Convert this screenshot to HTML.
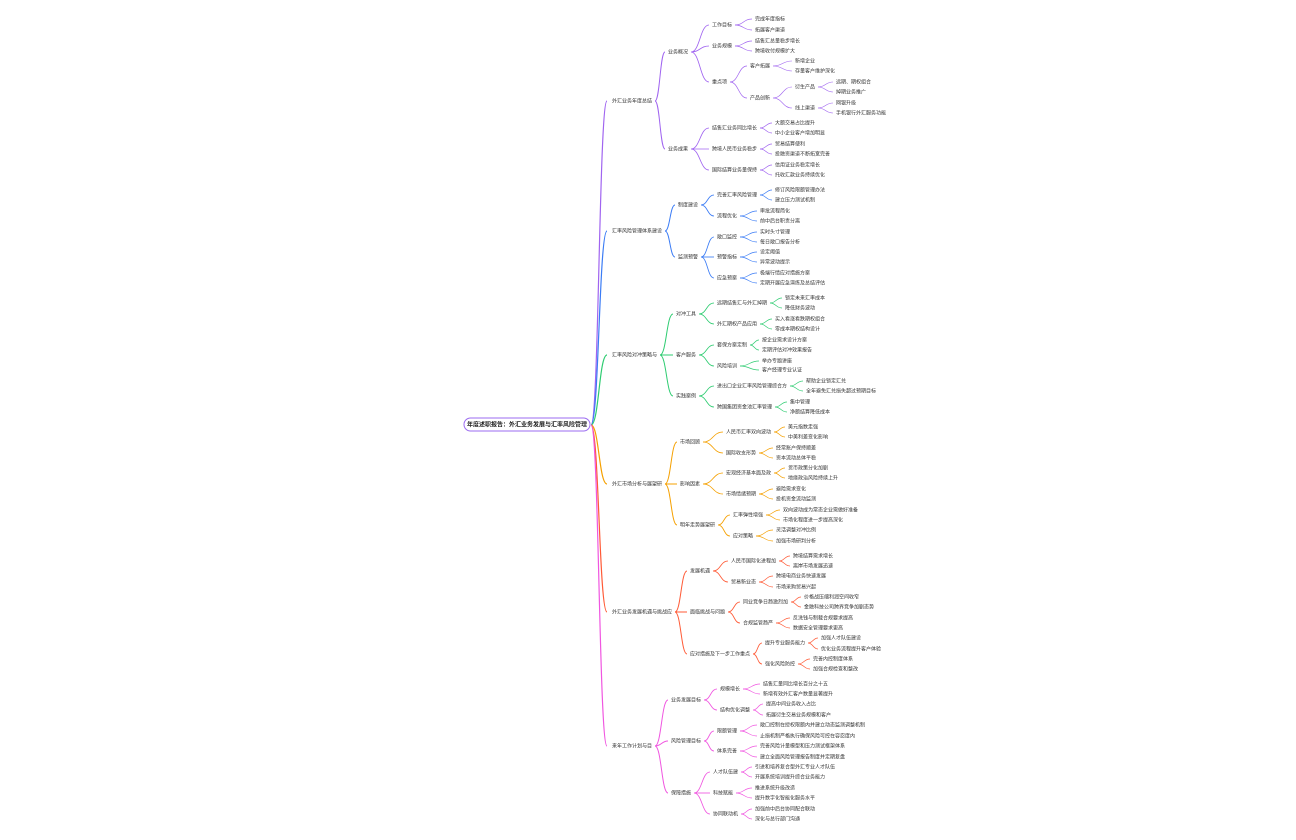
<!DOCTYPE html>
<html><head><meta charset="utf-8"><style>
html,body{margin:0;padding:0;background:#fff;width:1296px;height:840px;overflow:hidden}
svg{display:block}
text{font-family:"Liberation Sans","Noto Sans CJK SC",sans-serif;font-size:5px;fill:#333;dominant-baseline:middle}
</style></head><body>
<svg id="s" width="1296" height="840" viewBox="0 0 1296 840" xmlns="http://www.w3.org/2000/svg">
<rect x="464" y="418" width="126" height="13" rx="6.5" fill="#fff" stroke="#9b6bf0" stroke-width="1"/>
<text x="527" y="425" text-anchor="middle" style="font-size:6px;font-weight:bold;fill:#222">年度述职报告：外汇业务发展与汇率风险管理</text>
<g id="g"></g>
</svg>
<script>
var T=[
["#a064f0",612,101,"外汇业务年度总结",[
 [668,52,"业务概况",[
  [712,25,"工作目标",[[755,19,"完成年度指标"],[755,30,"拓展客户渠道"]]],
  [712,46,"业务规模",[[755,41,"结售汇总量稳步增长"],[755,51,"跨境收付规模扩大"]]],
  [712,82,"重点项",[
   [750,66,"客户拓展",[[795,61,"新增企业"],[795,71,"存量客户维护深化"]]],
   [750,98,"产品创新",[
     [795,87,"衍生产品",[[836,82,"远期、期权组合"],[836,92,"掉期业务推广"]]],
     [795,108,"线上渠道",[[836,103,"网银升级"],[836,113,"手机银行外汇服务功能"]]]]]]]]],
 [668,149,"业务成果",[
  [712,128,"结售汇业务同比增长",[[775,123,"大额交易占比提升"],[775,133,"中小企业客户增加明显"]]],
  [712,149,"跨境人民币业务稳步推进",[[775,144,"贸易结算便利"],[775,154,"投融资渠道不断拓宽完善"]]],
  [712,170,"国际结算业务量保持领先",[[775,165,"信用证业务稳定增长"],[775,175,"托收汇款业务持续优化"]]]]]]],
["#3b7cf5",612,231,"汇率风险管理体系建设",[
 [678,205,"制度建设",[
  [717,195,"完善汇率风险管理制度",[[775,190,"修订风险限额管理办法"],[775,200,"建立压力测试机制"]]],
  [717,216,"流程优化",[[760,211,"审批流程简化"],[760,221,"前中后台职责分离"]]]]],
 [678,257,"监测预警",[
  [717,237,"敞口监控",[[760,232,"实时头寸管理"],[760,242,"每日敞口报告分析"]]],
  [717,257,"预警指标",[[760,252,"设定阈值"],[760,262,"异常波动提示"]]],
  [717,278,"应急预案",[[760,273,"极端行情应对措施方案"],[760,283,"定期开展应急演练及总结评估"]]]]]]],
["#2ecc71",612,355,"汇率风险对冲策略与实践",[
 [676,314,"对冲工具",[
  [717,303,"远期结售汇与外汇掉期组合",[[785,298,"锁定未来汇率成本"],[785,308,"降低财务波动"]]],
  [717,324,"外汇期权产品应用",[[775,319,"买入看涨看跌期权组合"],[775,329,"零成本期权结构设计"]]]]],
 [676,355,"客户服务",[
  [717,345,"套保方案定制",[[762,340,"按企业需求设计方案"],[762,350,"定期评估对冲效果报告"]]],
  [717,366,"风险培训",[[762,361,"举办专题讲座"],[762,370,"客户经理专业认证"]]]]],
 [676,396,"实践案例",[
  [717,386,"进出口企业汇率风险管理综合方案",[[806,381,"帮助企业锁定汇兑"],[806,391,"全年避免汇兑损失超过预期目标"]]],
  [717,407,"跨国集团资金池汇率管理",[[790,402,"集中管理"],[790,412,"净额结算降低成本"]]]]]]],
["#f5a000",612,484,"外汇市场分析与展望研判",[
 [680,442,"市场回顾",[
  [726,432,"人民币汇率双向波动",[[788,427,"美元指数走强"],[788,437,"中美利差变化影响"]]],
  [726,453,"国际收支形势",[[776,448,"经常账户保持顺差"],[776,458,"资本流动总体平稳"]]]]],
 [680,484,"影响因素",[
  [726,473,"宏观经济基本面及政策",[[788,468,"货币政策分化加剧"],[788,478,"地缘政治风险持续上升"]]],
  [726,494,"市场情绪预期",[[776,489,"避险需求变化"],[776,499,"投机资金流动监测"]]]]],
 [680,525,"明年走势展望研判",[
  [733,515,"汇率弹性增强",[[783,510,"双向波动成为常态企业需做好准备"],[783,520,"市场化程度进一步提高深化"]]],
  [733,536,"应对策略",[[776,530,"灵活调整对冲比例"],[776,541,"加强市场研判分析"]]]]]]],
["#ff5a36",612,612,"外汇业务发展机遇与挑战应对",[
 [690,571,"发展机遇",[
  [731,561,"人民币国际化进程加快",[[793,556,"跨境结算需求增长"],[793,566,"离岸市场发展迅速"]]],
  [731,582,"贸易新业态",[[776,576,"跨境电商业务快速发展"],[776,587,"市场采购贸易兴起"]]]]],
 [690,612,"面临挑战与问题",[
  [743,602,"同业竞争日趋激烈加剧",[[804,597,"价格战压缩利润空间收窄"],[804,607,"金融科技公司跨界竞争加剧态势"]]],
  [743,623,"合规监管趋严",[[793,618,"反洗钱与制裁合规要求提高"],[793,628,"数据安全管理要求更高"]]]]],
 [690,654,"应对措施及下一步工作重点",[
  [765,643,"提升专业服务能力水平",[[821,638,"加强人才队伍建设"],[821,649,"优化业务流程提升客户体验"]]],
  [765,664,"强化风险防控",[[813,659,"完善内控制度体系"],[813,669,"加强合规检查和整改"]]]]]]],
["#f056e0",612,746,"来年工作计划与目标",[
 [671,700,"业务发展目标",[
  [720,689,"规模增长",[[763,684,"结售汇量同比增长百分之十五"],[763,694,"新增有效外汇客户数量显著提升"]]],
  [720,710,"结构优化调整",[[766,704,"提高中间业务收入占比"],[766,715,"拓展衍生交易业务规模和客户"]]]]],
 [671,741,"风险管理目标",[
  [717,731,"限额管理",[[760,725,"敞口控制在授权限额内并建立动态监测调整机制"],[760,736,"止损机制严格执行确保风险可控在容忍度内"]]],
  [717,751,"体系完善",[[760,746,"完善风险计量模型和压力测试框架体系"],[760,757,"建立全面风险管理报告制度并定期复盘"]]]]],
 [671,793,"保障措施",[
  [713,772,"人才队伍建设",[[755,767,"引进和培养复合型外汇专业人才队伍"],[755,777,"开展系统培训提升综合业务能力"]]],
  [713,793,"科技赋能",[[755,788,"推进系统升级改造"],[755,798,"提升数字化智能化服务水平"]]],
  [713,814,"协同联动机制",[[755,809,"加强前中后台协同配合联动"],[755,819,"深化与总行部门沟通"]]]]]]]
];
var NS="http://www.w3.org/2000/svg",g=document.getElementById("g");
function el(n,a){var e=document.createElementNS(NS,n);for(var k in a)e.setAttribute(k,a[k]);g.appendChild(e);return e;}
function curve(x1,y1,x2,y2,c,w){var m=(x1+x2)/2;el("path",{d:"M"+x1+","+y1+" C"+m+","+y1+" "+m+","+y2+" "+x2+","+y2,fill:"none",stroke:c,"stroke-width":w});}
function node(n,c,w){var t=el("text",{x:n[0],y:n[1]});var s=n[2];t.textContent=s;var len=t.getComputedTextLength();
 if(n[3]){var mx=Math.min.apply(null,n[3].map(function(ch){return ch[0];}));var lim=mx-n[0]-14;
  while(len>lim&&s.length>2){s=s.slice(0,-1);t.textContent=s;len=t.getComputedTextLength();}
  n[3].forEach(function(ch){curve(n[0]+len+3,n[1],ch[0]-3,ch[1],c,w);node(ch,c,Math.max(0.6,w-0.15));});}}
T.forEach(function(b){curve(591,425,607,b[2],b[0],1.2);node([b[1],b[2],b[3],b[4]],b[0],1);});
</script>
</body></html>
